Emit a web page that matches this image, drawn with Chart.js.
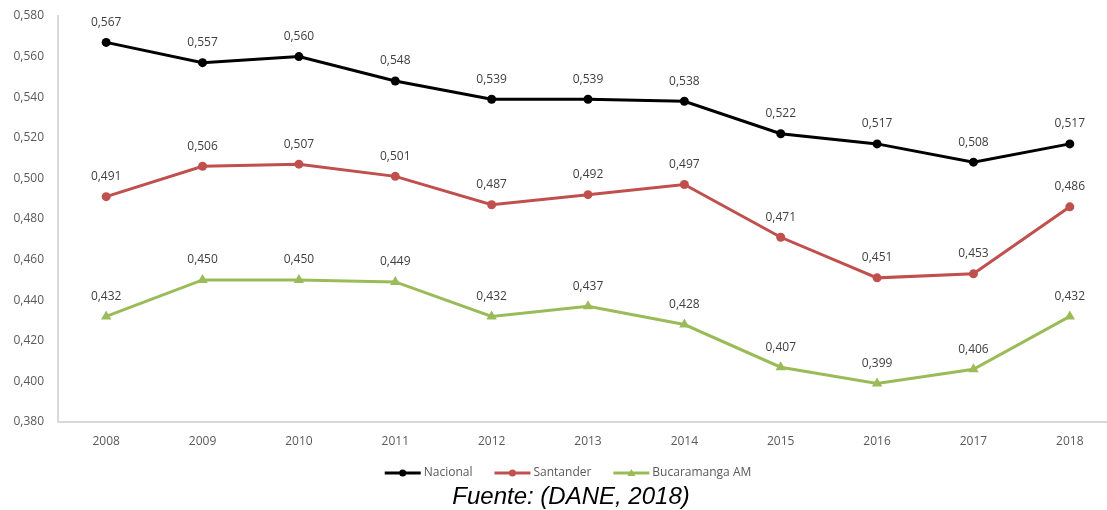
<!DOCTYPE html>
<html><head><meta charset="utf-8">
<script src="https://cdn.jsdelivr.net/npm/chart.js@4/dist/chart.umd.min.js"></script>
<style>html,body{margin:0;padding:0;background:#fff;overflow:hidden;width:1107px;height:510px}#wrap{width:1130px;height:510px}</style>
</head><body><div id="wrap"><canvas id="c" width="1124" height="510"></canvas></div>
<script>
const categories = ['2008','2009','2010','2011','2012','2013','2014','2015','2016','2017','2018'];
const nacional = [0.567,0.557,0.560,0.548,0.539,0.539,0.538,0.522,0.517,0.508,0.517];
const santander = [0.491,0.506,0.507,0.501,0.487,0.492,0.497,0.471,0.451,0.453,0.486];
const bucaramanga = [0.432,0.450,0.450,0.449,0.432,0.437,0.428,0.407,0.399,0.406,0.432];
const seriesNames = ['Nacional','Santander','Bucaramanga AM'];
const caption = 'Fuente: (DANE, 2018)';

const colors = ['#000000','#c0504d','#9bbb59'];
const styles = ['circle','circle','triangle'];
const fmt = v => v.toFixed(3).replace('.', ',');

const labelPlugin = {
  id:'valLabels',
  afterDatasetsDraw(chart){
    const ctx = chart.ctx;
    ctx.save();
    ctx.font = '12px "Open Sans"';
    ctx.fillStyle = '#404040';
    ctx.textAlign = 'center';
    ctx.textBaseline = 'middle';
    chart.data.datasets.forEach((ds,i)=>{
      chart.getDatasetMeta(i).data.forEach((el,j)=>{
        ctx.fillText(fmt(ds.data[j]), el.x, el.y - 20);
      });
    });
    ctx.restore();
  }
};
const legendPlugin = {
  id:'customLegend',
  afterDraw(chart){
    const ctx = chart.ctx;
    ctx.save();
    ctx.font = '12px "Open Sans"';
    ctx.textBaseline = 'middle';
    const y = 473;
    const lineW = 36, gap = 3, itemGap = 22;
    const widths = seriesNames.map(n => lineW + gap + ctx.measureText(n).width);
    const total = widths.reduce((a,b)=>a+b,0) + itemGap*(seriesNames.length-1);
    let x = 568 - total/2;
    seriesNames.forEach((n,i)=>{
      ctx.strokeStyle = colors[i]; ctx.lineWidth = 3;
      ctx.beginPath(); ctx.moveTo(x,y); ctx.lineTo(x+lineW,y); ctx.stroke();
      ctx.fillStyle = colors[i];
      if (styles[i]==='circle'){ ctx.beginPath(); ctx.arc(x+lineW/2,y,3.5,0,Math.PI*2); ctx.fill(); }
      else { ctx.beginPath(); ctx.moveTo(x+lineW/2,y-4); ctx.lineTo(x+lineW/2+4,y+3); ctx.lineTo(x+lineW/2-4,y+3); ctx.closePath(); ctx.fill(); }
      ctx.fillStyle = '#595959';
      ctx.textAlign='left';
      ctx.fillText(n, x+lineW+gap, y);
      x += widths[i] + itemGap;
    });
    ctx.font = 'italic 24px "Liberation Sans"';
    ctx.fillStyle = '#000';
    ctx.textAlign='center';
    ctx.fillText(caption, 571, 497);
    ctx.restore();
  }
};

const mk = (label,data,i) => ({
  label, data, borderColor: colors[i], backgroundColor: colors[i],
  borderWidth: 3, pointStyle: styles[i], pointRadius: styles[i]==='triangle'?6:4.5,
  pointBorderWidth: 0, tension: 0, fill:false
});

new Chart(document.getElementById('c'), {
  type:'line',
  data:{ labels: categories, datasets:[
    mk(seriesNames[0], nacional, 0),
    mk(seriesNames[1], santander, 1),
    mk(seriesNames[2], bucaramanga, 2)
  ]},
  options:{
    responsive:false, animation:false, devicePixelRatio:1,
    layout:{padding:{top:16,right:0,left:0,bottom:0}},
    plugins:{legend:{display:false}, tooltip:{enabled:false}},
    scales:{
      x:{ offset:true, grid:{display:false, drawTicks:false},
          border:{display:true,color:'#d9d9d9',width:2},
          ticks:{color:'#595959', font:{family:'Open Sans', size:12}, padding:12, maxRotation:0},
          afterFit(s){ s.height = 88; s.paddingLeft = 0; s.paddingRight = 0; } },
      y:{ min:0.38, max:0.58, grid:{display:false, drawTicks:false},
          border:{display:true,color:'#d9d9d9',width:2},
          ticks:{stepSize:0.02, color:'#595959', font:{family:'Open Sans', size:12}, padding:14,
                 callback:v=>fmt(v)},
          afterFit(s){ s.width = 58; s.paddingTop = 0; s.paddingBottom = 0; } }
    }
  },
  plugins:[labelPlugin, legendPlugin]
});
</script></body></html>
